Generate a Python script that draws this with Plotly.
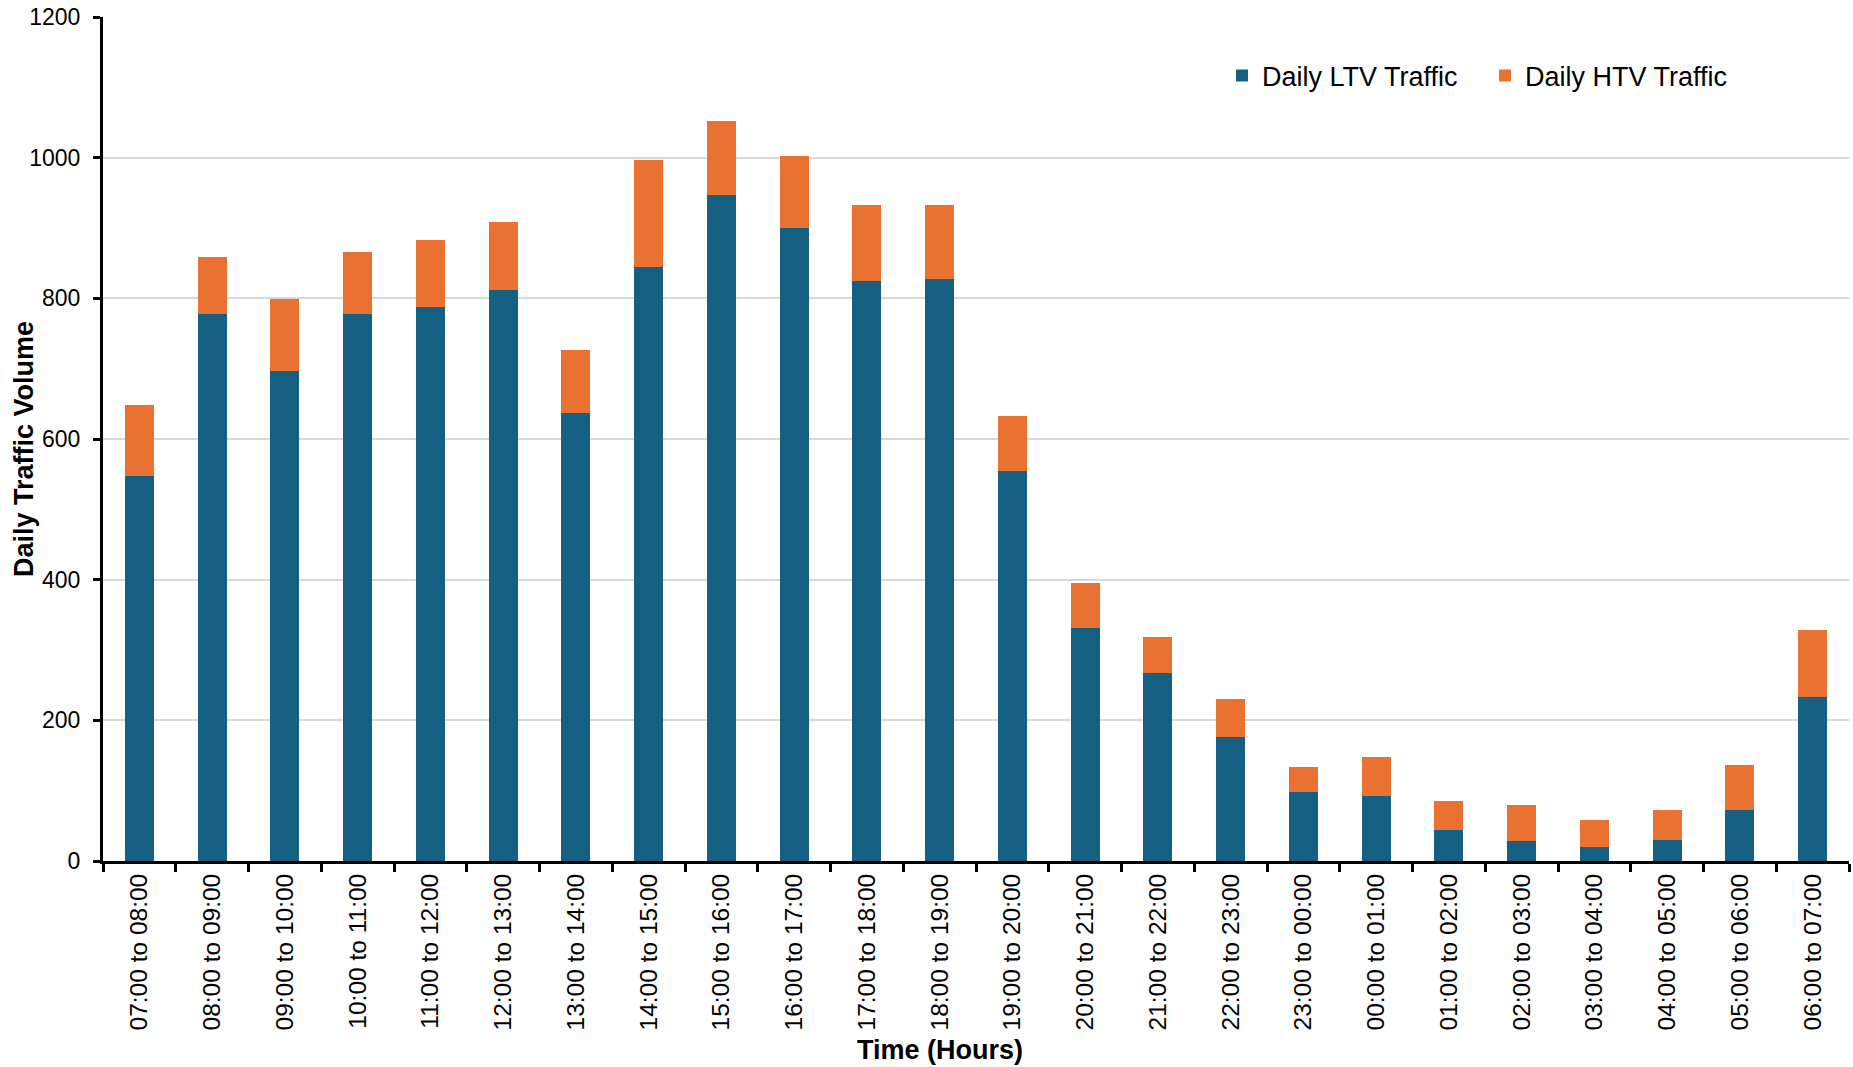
import plotly.graph_objects as go

# Hourly periods over a 24-hour survey day
periods = [
    "07:00 to 08:00", "08:00 to 09:00", "09:00 to 10:00", "10:00 to 11:00",
    "11:00 to 12:00", "12:00 to 13:00", "13:00 to 14:00", "14:00 to 15:00",
    "15:00 to 16:00", "16:00 to 17:00", "17:00 to 18:00", "18:00 to 19:00",
    "19:00 to 20:00", "20:00 to 21:00", "21:00 to 22:00", "22:00 to 23:00",
    "23:00 to 00:00", "00:00 to 01:00", "01:00 to 02:00", "02:00 to 03:00",
    "03:00 to 04:00", "04:00 to 05:00", "05:00 to 06:00", "06:00 to 07:00",
]

# Light traffic vehicles per hour
ltv_traffic = [548, 778, 697, 778, 787, 812, 637, 844, 947, 900, 825, 827,
               555, 331, 268, 177, 98, 92, 44, 28, 20, 30, 72, 233]

# Heavy traffic vehicles per hour (stacked on top of LTV)
htv_traffic = [101, 81, 102, 88, 96, 97, 90, 153, 105, 103, 107, 105,
               77, 64, 51, 53, 35, 56, 41, 51, 39, 43, 65, 96]

y_ticks = [0, 200, 400, 600, 800, 1000, 1200]

BLUE = "#156082"
ORANGE = "#E97132"
FONT = "Liberation Sans, Arial, sans-serif"

W, H = 1853, 1067
M_L, M_R, M_T, M_B = 103, 4, 17, 206
plot_w = W - M_L - M_R
plot_h = H - M_T - M_B

fig = go.Figure()
fig.add_trace(go.Bar(
    x=periods, y=ltv_traffic, name="Daily LTV Traffic",
    marker=dict(color=BLUE, line=dict(width=0)),
))
fig.add_trace(go.Bar(
    x=periods, y=htv_traffic, name="Daily HTV Traffic",
    marker=dict(color=ORANGE, line=dict(width=0)),
))

def px_x(px):
    return (px - M_L) / plot_w

def px_y(py):
    return (H - M_B - py) / plot_h

fig.update_layout(
    width=W, height=H,
    barmode="stack", bargap=0.6,
    paper_bgcolor="white", plot_bgcolor="white",
    margin=dict(l=M_L, r=M_R, t=M_T, b=M_B, pad=0),
    font=dict(family=FONT, color="black", size=23),
    showlegend=True,
    legend=dict(
        orientation="h",
        x=px_x(1222), xanchor="left",
        y=px_y(76), yanchor="middle",
        font=dict(size=27, family=FONT, color="black"),
        entrywidth=218, entrywidthmode="pixels",
        bgcolor="rgba(0,0,0,0)", borderwidth=0,
        traceorder="normal",
    ),
    xaxis=dict(
        type="category",
        tickangle=-90,
        tickson="boundaries",
        ticks="outside", ticklen=8, tickwidth=3, tickcolor="black",
        showline=True, linecolor="black", linewidth=3,
        showgrid=False, zeroline=False,
        tickfont=dict(size=24.5, family=FONT, color="black"),
        range=[-0.5, len(periods) - 0.5],
    ),
    yaxis=dict(
        range=[0, 1200],
        tickvals=y_ticks,
        ticks="outside", ticklen=7, tickwidth=3, tickcolor="black",
        showline=True, linecolor="black", linewidth=3,
        showgrid=True, gridcolor="#d9d9d9", gridwidth=1.5,
        zeroline=False,
        tickfont=dict(size=23, family=FONT, color="black"),
        ticklabelstandoff=8,
    ),
    annotations=[
        dict(
            text="<b>Time (Hours)</b>", xref="paper", yref="paper",
            x=px_x(940), y=px_y(1050), xanchor="center", yanchor="middle",
            showarrow=False, font=dict(size=27, family=FONT, color="black"),
        ),
        dict(
            text="<b>Daily Traffic Volume</b>", xref="paper", yref="paper",
            x=px_x(24), y=px_y(449), xanchor="center", yanchor="middle",
            textangle=-90,
            showarrow=False, font=dict(size=27, family=FONT, color="black"),
        ),
    ],
)

fig.write_html("out.html")
